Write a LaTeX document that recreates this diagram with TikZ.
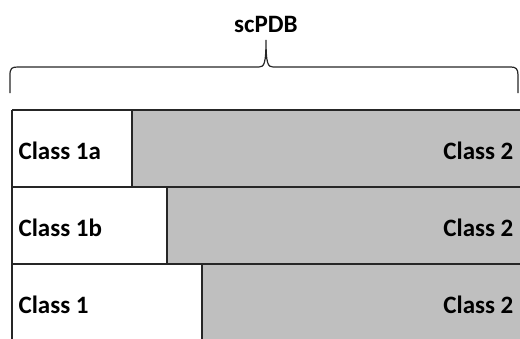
\documentclass[tikz,border=0pt]{standalone}
\usepackage{fontspec}
\setmainfont{Carlito}
\usetikzlibrary{positioning}
\definecolor{clsgray}{RGB}{191,191,191}
\tikzset{lbl/.style={font=\bfseries\fontsize{25}{30}\selectfont,inner sep=0pt}}

\begin{document}
\begin{tikzpicture}[x=1pt,y=-1pt,line width=1.2pt,draw=black!85]
\useasboundingbox(0,0)rectangle(520,338);
\clip(0,0)rectangle(520,338);
\coordinate(A)at(12,110);\coordinate(B)at(12,187);\coordinate(C)at(12,264);
\coordinate(Pa)at(132,110);\coordinate(Pb)at(167,187);\coordinate(Pc)at(202,264);
\fill[clsgray](Pa)rectangle(530,187)(Pb)rectangle(530,264)(Pc)rectangle(530,345);
\draw(A)--(530,110)(B)--(530,187)(C)--(530,264)(A)--(12,345)
(Pa)--(132,187)(Pb)--(167,264)(Pc)--(202,345);
\draw(10,93)--(10,75)..controls(10,68)and(12,67)..(18,67)--(259,67)
..controls(264,67)and(266,64)..(266,40)..controls(266,64)and(268,67)..(273,67)
--(511,67)..controls(516,67)and(518,69)..(518,75)--(518,93);
\node[lbl,anchor=base](sc)at(266,32){scPDB};
\node[lbl,anchor=base west](c1a)at(18,159){Class 1a};
\node[lbl,anchor=base west](c1b)at(18,236){Class 1b};
\node[lbl,anchor=base west](c1)at(18,313){Class 1};
\node[lbl,anchor=base east](c2a)at(514,159){Class 2};
\node[lbl,anchor=base east](c2b)at(514,236){Class 2};
\node[lbl,anchor=base east](c2c)at(514,313){Class 2};
\end{tikzpicture}
\end{document}
